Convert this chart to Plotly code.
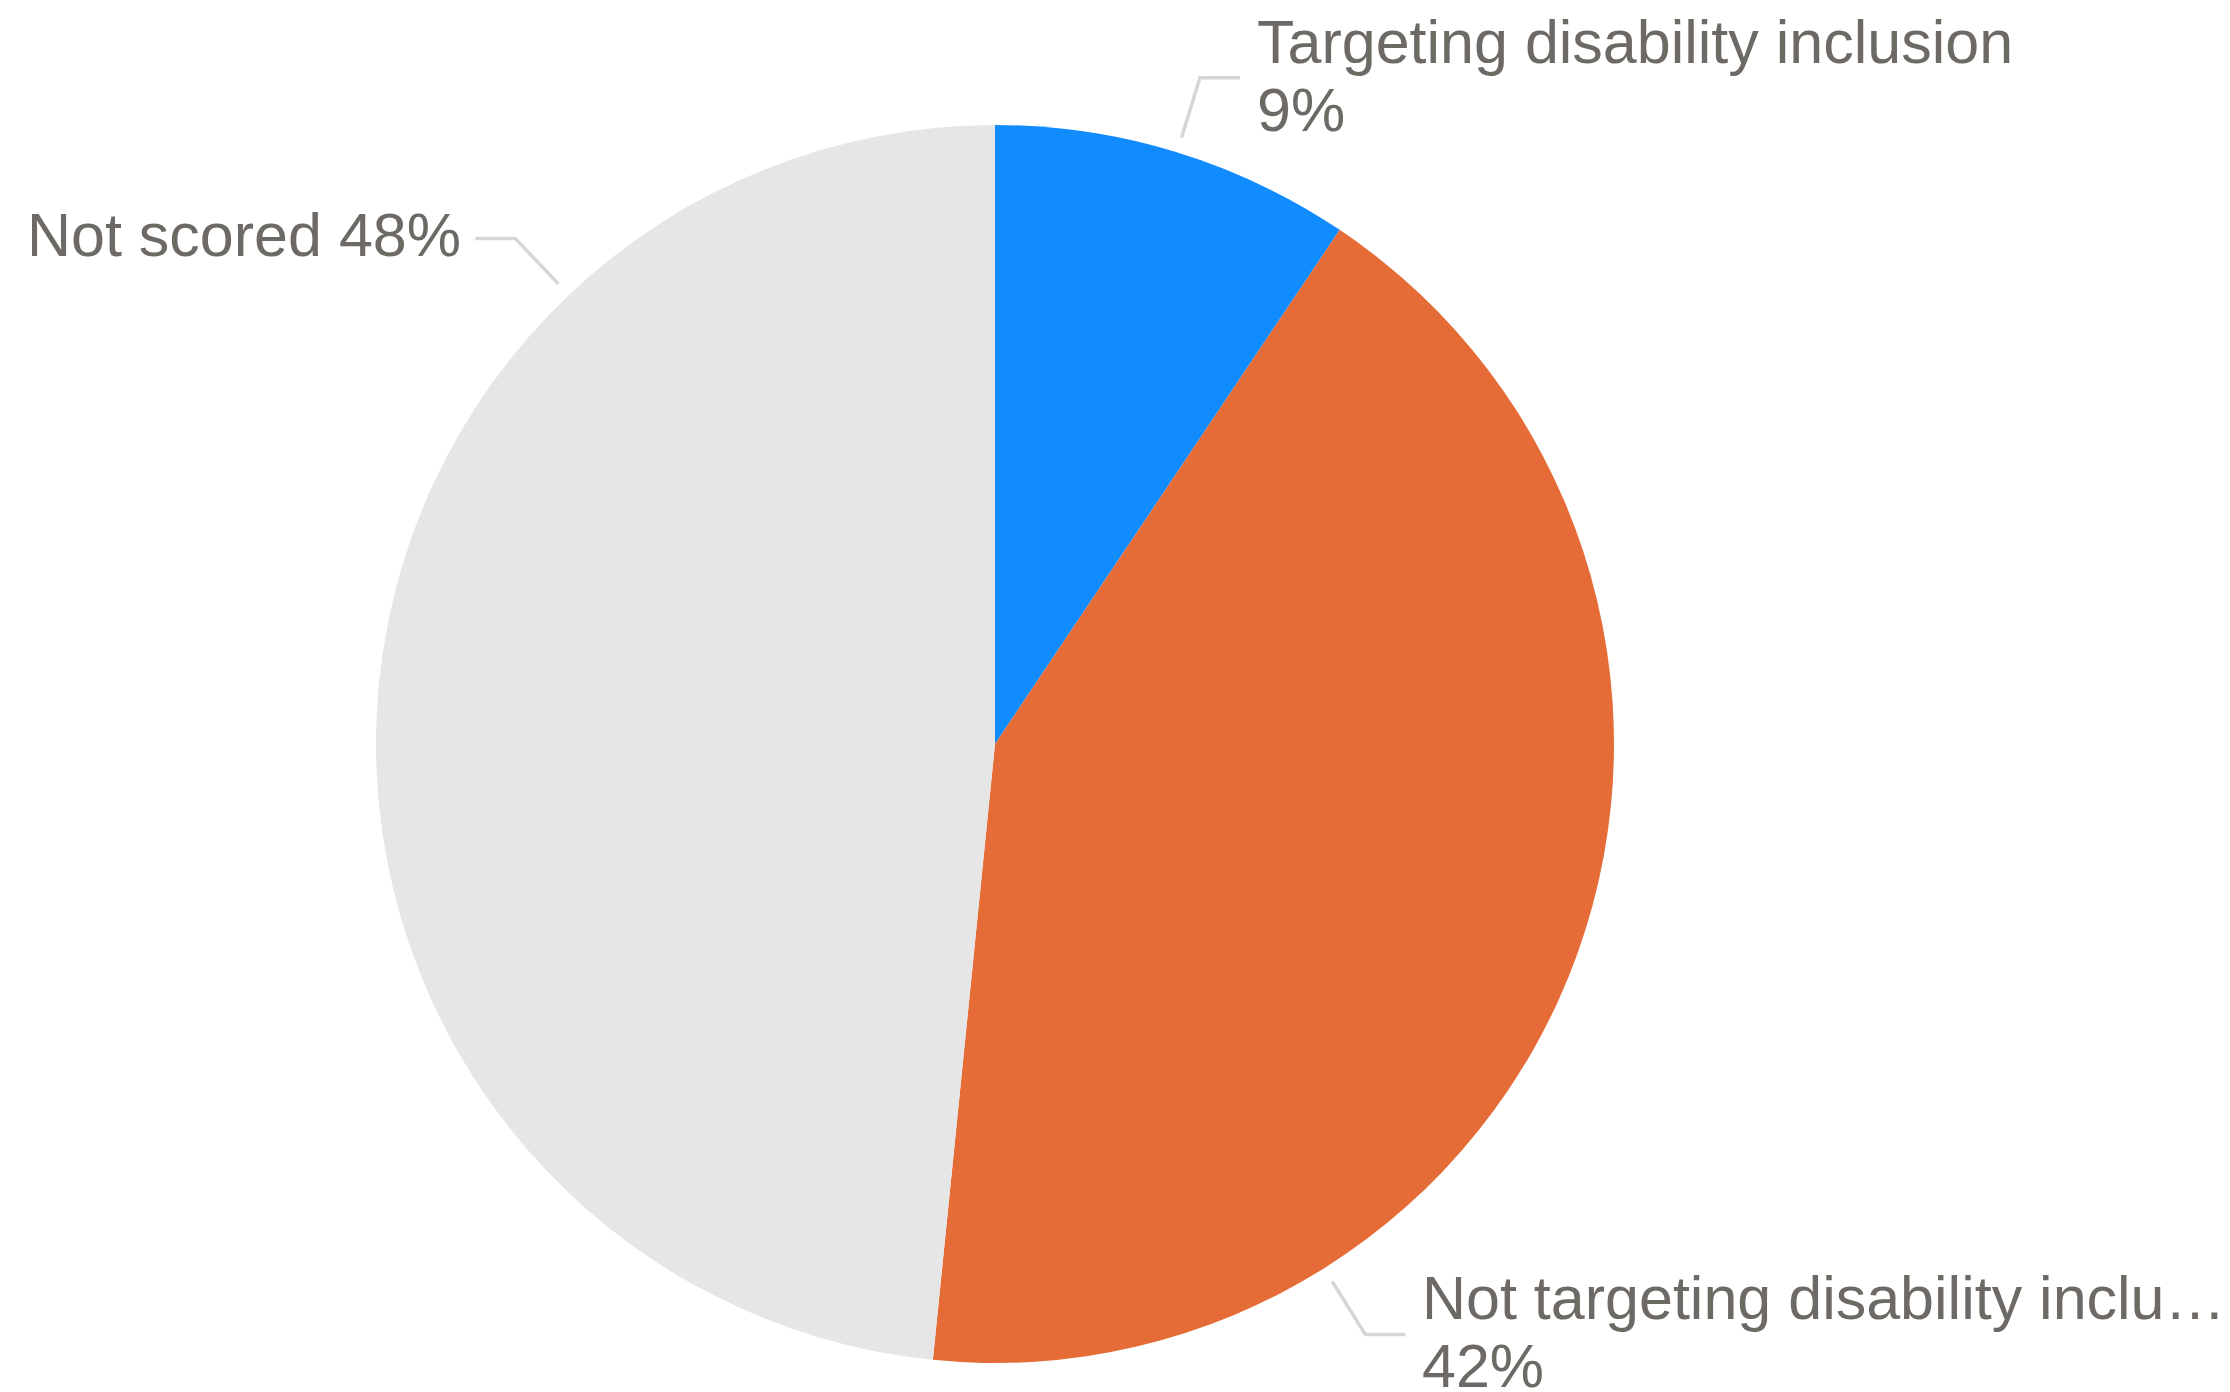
import math
import plotly.graph_objects as go

# ---- data ----
categories = ["Targeting disability inclusion", "Not targeting disability inclusion", "Not scored"]
label_text = ["Targeting disability inclusion", "Not targeting disability inclu…", "Not scored"]
values = [9.4, 42.2, 48.4]
colors = ["#118cff", "#e66c37", "#e6e6e6"]
# angle (deg, clockwise from 12 o'clock) where each leader line meets the pie
leader_angles = [17.1, 147.9, 316.5]
two_line = [True, True, False]

# ---- layout constants (pixels) ----
W, H = 2230, 1392
CX, CY, R = 995, 744, 619
FONT = "Liberation Sans, Arial, Helvetica, sans-serif"
FS = 61
TXT = "#6d6964"
LEAD = "#d6d6d6"

def px_x(x):
    return x / W

def px_y(y):
    return 1 - y / H

total = sum(values)
fig = go.Figure()
fig.add_trace(go.Pie(
    labels=categories, values=values, sort=False, direction="clockwise", rotation=0,
    marker=dict(colors=colors, line=dict(width=0)),
    textinfo="none", hoverinfo="label+percent", showlegend=False,
    domain=dict(x=[px_x(CX - R), px_x(CX + R)], y=[px_y(CY + R), px_y(CY - R)]),
))

shapes, annotations = [], []
for name, v, ang, tl in zip(label_text, values, leader_angles, two_line):
    t = math.radians(ang)
    sx, sy = CX + 1.025 * R * math.sin(t), CY - 1.025 * R * math.cos(t)
    ex, ey = CX + 1.126 * R * math.sin(t), CY - 1.126 * R * math.cos(t)
    right = math.sin(t) > 0
    hx = ex + (40 if right else -40)
    path = f"M {px_x(sx)} {px_y(sy)} L {px_x(ex)} {px_y(ey)} L {px_x(hx)} {px_y(ey)}"
    shapes.append(dict(type="path", path=path, xref="paper", yref="paper",
                       line=dict(color=LEAD, width=3.5)))
    tx = hx + (15 if right else -12)
    pct = f"{round(v / total * 100)}%"
    if tl:
        lines = [(name, ey - 36), (pct, ey + 32)]
    else:
        lines = [(f"{name} {pct}", ey - 3)]
    for txt, yy in lines:
        annotations.append(dict(
            text=txt, x=px_x(tx), y=px_y(yy), xref="paper", yref="paper",
            xanchor="left" if right else "right", yanchor="middle",
            showarrow=False, font=dict(family=FONT, size=FS, color=TXT)))

fig.update_layout(
    width=W, height=H, margin=dict(l=0, r=0, t=0, b=0),
    paper_bgcolor="white", plot_bgcolor="white",
    shapes=shapes, annotations=annotations,
)
fig.write_html("out.html", config={"displayModeBar": False},
               post_script="document.body.style.margin='0';document.body.style.overflow='hidden';")
